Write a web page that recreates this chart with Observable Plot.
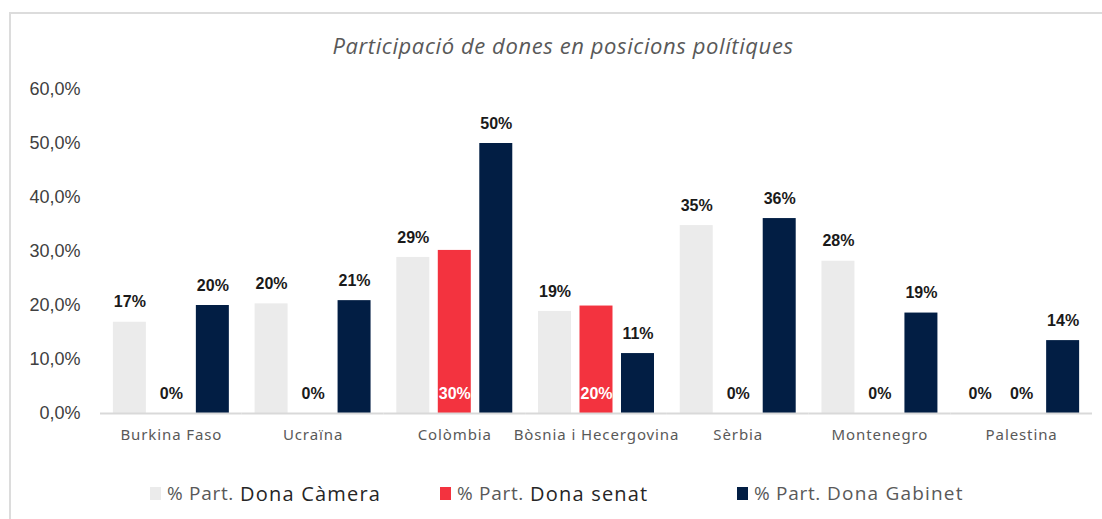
<!DOCTYPE html>
<html><head><meta charset="utf-8">
<script src="https://cdn.jsdelivr.net/npm/d3@7"></script>
<script src="https://cdn.jsdelivr.net/npm/@observablehq/plot@0.6"></script>
<style>
body{margin:0;background:#fff;width:1102px;height:519px;overflow:hidden;position:relative;font-family:"Open Sans",sans-serif}
#frame{position:absolute;left:9px;top:12px;width:1100px;height:520px;border-top:2px solid #dcdcdc;border-left:2px solid #dcdcdc}
#title{position:absolute;top:31px;left:10px;width:1106px;text-align:center;font-style:italic;font-size:22px;letter-spacing:0.6px;color:#595959;line-height:28px}
#chart{position:absolute;top:60px;left:0}
#chart g[aria-label="fx-axis tick label"] text{letter-spacing:0.9px}
.leg{position:absolute;top:481px;height:24px;display:flex;align-items:center;font-size:19px;letter-spacing:0.7px;color:#595959;white-space:nowrap}
.leg .sw{width:11px;height:13px;margin-right:6px}
.leg .dk{color:#262626;font-size:20px;letter-spacing:1.2px}
.leg .lt{letter-spacing:1.2px}
</style></head><body>
<div id="frame"></div>
<div id="title">Participació de dones en posicions polítiques</div>
<div id="chart"></div>
<div id="legend"></div>
<script>
const countries = ["Burkina Faso","Ucraïna","Colòmbia","Bòsnia i Hecergovina","Sèrbia","Montenegro","Palestina"];
const series = ["% Part. Dona Càmera","% Part. Dona senat","% Part. Dona Gabinet"];
const camera = [16.9,20.3,28.9,18.9,34.8,28.2,0];
const senat = [0,0,30.2,19.9,0,0,0];
const gabinet = [20,20.9,50,11.1,36.1,18.6,13.5];
const colors = ["#ebebeb","#f3333f","#021e44"];
const yTicks = [0,10,20,30,40,50,60];

const values = [camera, senat, gabinet];
const data = [];
countries.forEach((c,i)=>series.forEach((s,j)=>data.push({country:c, series:s, value:values[j][i]})));
const pct = d => Math.round(d.value) + "%";
const isSen = d => d.series === series[1];

const chart = Plot.plot({
  width:1102, height:400,
  marginTop:29, marginBottom:47, marginLeft:100, marginRight:10,
  style:{fontFamily:"'Liberation Sans', Arial, sans-serif", background:"transparent"},
  fx:{domain:countries, padding:0, round:false, label:null, axis:null},
  x:{domain:series, axis:null, round:false, paddingInner:0.205, paddingOuter:0.31},
  y:{domain:[0,60], axis:null},
  color:{domain:series, range:colors},
  marks:[
    Plot.axisY({ticks:yTicks, tickSize:0, tickPadding:20, tickFormat:d=>d.toFixed(1).replace(".",",")+"%", fontSize:18, color:"#404040", label:null}),
    Plot.axisFx({anchor:"bottom", tickSize:0, tickPadding:16, fontSize:15, fontFamily:"'Noto Sans', sans-serif", color:"#595959", label:null}),
    Plot.barY(data, {fx:"country", x:"series", y:"value", fill:"series"}),
    Plot.ruleY([0], {stroke:"#d9d9d9", strokeWidth:2}),
    Plot.text(data.filter(d=>!isSen(d)), {fx:"country", x:"series", y:"value", text:pct, dy:-20, fill:"#1a1a1a", fontWeight:"bold", fontSize:16}),
    Plot.text(data.filter(d=>isSen(d) && d.value>0), {fx:"country", x:"series", y:()=>0, text:pct, dy:-20, fill:"#ffffff", fontWeight:"bold", fontSize:16}),
    Plot.text(data.filter(d=>isSen(d) && d.value===0), {fx:"country", x:"series", y:()=>0, text:pct, dy:-20, fill:"#1a1a1a", fontWeight:"bold", fontSize:16})
  ]
});
document.getElementById("chart").appendChild(chart);

const legLeft = [150, 440, 737];
const leg = document.getElementById("legend");
series.forEach((s,i)=>{
  const el = document.createElement("div");
  el.className = "leg";
  el.style.left = legLeft[i] + "px";
  const parts = s.split(". ");
  el.innerHTML = `<span class="sw" style="background:${colors[i]}"></span><span>${parts[0]}.</span><span class="${i<2?'dk':'lt'}" style="margin-left:6px">${parts[1]}</span>`;
  leg.appendChild(el);
});
</script>
</body></html>
